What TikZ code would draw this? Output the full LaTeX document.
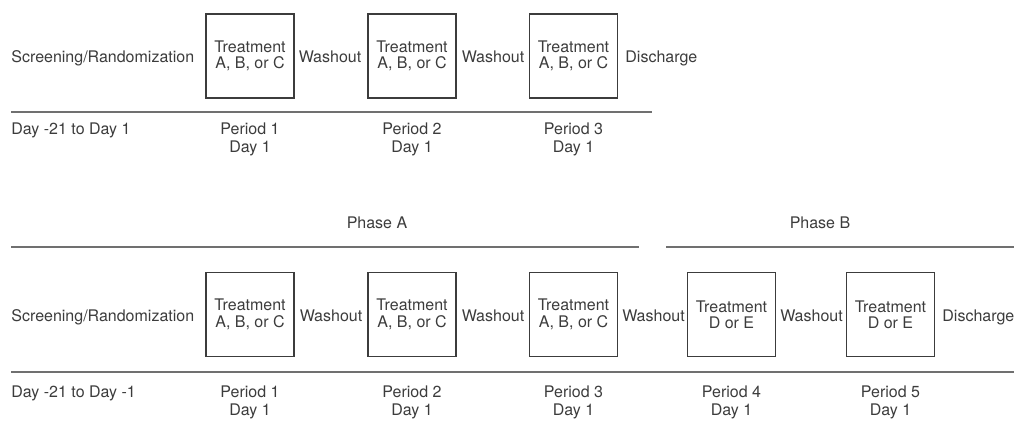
\documentclass[tikz,border=0pt]{standalone}
\usepackage{fontspec}
\setmainfont{TeX Gyre Heros}
\definecolor{ink}{HTML}{3C3C3C}
\definecolor{rulegray}{HTML}{707070}
\tikzset{
  txt/.style={font=\fontsize{8}{8.2}\selectfont, text=ink, inner sep=0pt},
  trtbox/.style={txt, draw=ink, line width=0.6pt, minimum width=44pt,
    minimum height=42pt, align=center},
  perlab/.style={txt, anchor=north, align=center,
    font=\fontsize{8}{9.3}\selectfont},
  phaserule/.style={draw=rulegray, line width=0.9pt}
}
\begin{document}
\begin{tikzpicture}  % ------ Crossover design, two schedules -----------
      [x=0.5pt, y=-0.5pt]
\useasboundingbox (0,0) rectangle (1016,420);
    % --- schedule 1 : periods 1 to 3
    \node[txt, anchor=base west] (scrA) at (11,62) {Screening/Randomization};
    \node[trtbox] (tA1) at (250,56) {Treatment\\A, B, or C};
    \node[trtbox] (tA2) at (412,56) {Treatment\\A, B, or C};
    \node[trtbox] (tA3) at (573.5,56) {Treatment\\A, B, or C};
    \node[txt, anchor=base] (wA1) at (330,62) {Washout};
    \node[txt, anchor=base] (wA2) at (493,62) {Washout};
    \node[txt, anchor=base west] (disA) at (625,62) {Discharge};
    \coordinate (RA1) at (11,112);
    \coordinate (RA2) at (652,112);
    \draw[phaserule] (RA1) -- (RA2);
    \node[txt, anchor=base west] (dayA) at (11,134) {Day -21 to Day 1};
    \node[perlab] (pA1) at (tA1.center |- 0,122) {Period 1\\Day 1};
    \node[perlab] (pA2) at (tA2.center |- 0,122) {Period 2\\Day 1};
    \node[perlab] (pA3) at (tA3.center |- 0,122) {Period 3\\Day 1};
    % --- schedule 2 : phase A and phase B
    \node[txt, anchor=base] (phA) at (377,228) {Phase A};
    \node[txt, anchor=base] (phB) at (820,228) {Phase B};
    \coordinate (RB1) at (11,247);
    \coordinate (RB2) at (639,247);
    \coordinate (RB3) at (666,247);
    \coordinate (RB4) at (1014,247);
    \draw[phaserule] (RB1) -- (RB2);
    \draw[phaserule] (RB3) -- (RB4);
    \node[txt, anchor=base west] (scrB) at (11,321) {Screening/Randomization};
    \node[trtbox] (tB1) at (250,314.5) {Treatment\\A, B, or C};
    \node[trtbox] (tB2) at (412,314.5) {Treatment\\A, B, or C};
    \node[trtbox] (tB3) at (573.5,314.5) {Treatment\\A, B, or C};
    \node[trtbox] (tB4) at (731.5,314.5) {Treatment\\D or E};
    \node[trtbox] (tB5) at (890.5,314.5) {Treatment\\D or E};
    \node[txt, anchor=base] (wB1) at (331,321) {Washout};
    \node[txt, anchor=base] (wB2) at (493,321) {Washout};
    \node[txt, anchor=base] (wB3) at (653.5,321) {Washout};
    \node[txt, anchor=base] (wB4) at (811.5,321) {Washout};
    \node[txt, anchor=base west] (disB) at (942,321) {Discharge};
    \coordinate (RC1) at (11,372);
    \coordinate (RC2) at (1014,372);
    \draw[phaserule] (RC1) -- (RC2);
    \node[txt, anchor=base west] (dayB) at (11,397) {Day -21 to Day -1};
    \node[perlab] (pB1) at (tB1.center |- 0,385) {Period 1\\Day 1};
    \node[perlab] (pB2) at (tB2.center |- 0,385) {Period 2\\Day 1};
    \node[perlab] (pB3) at (tB3.center |- 0,385) {Period 3\\Day 1};
    \node[perlab] (pB4) at (tB4.center |- 0,385) {Period 4\\Day 1};
    \node[perlab] (pB5) at (tB5.center |- 0,385) {Period 5\\Day 1};
\end{tikzpicture}
\end{document}
